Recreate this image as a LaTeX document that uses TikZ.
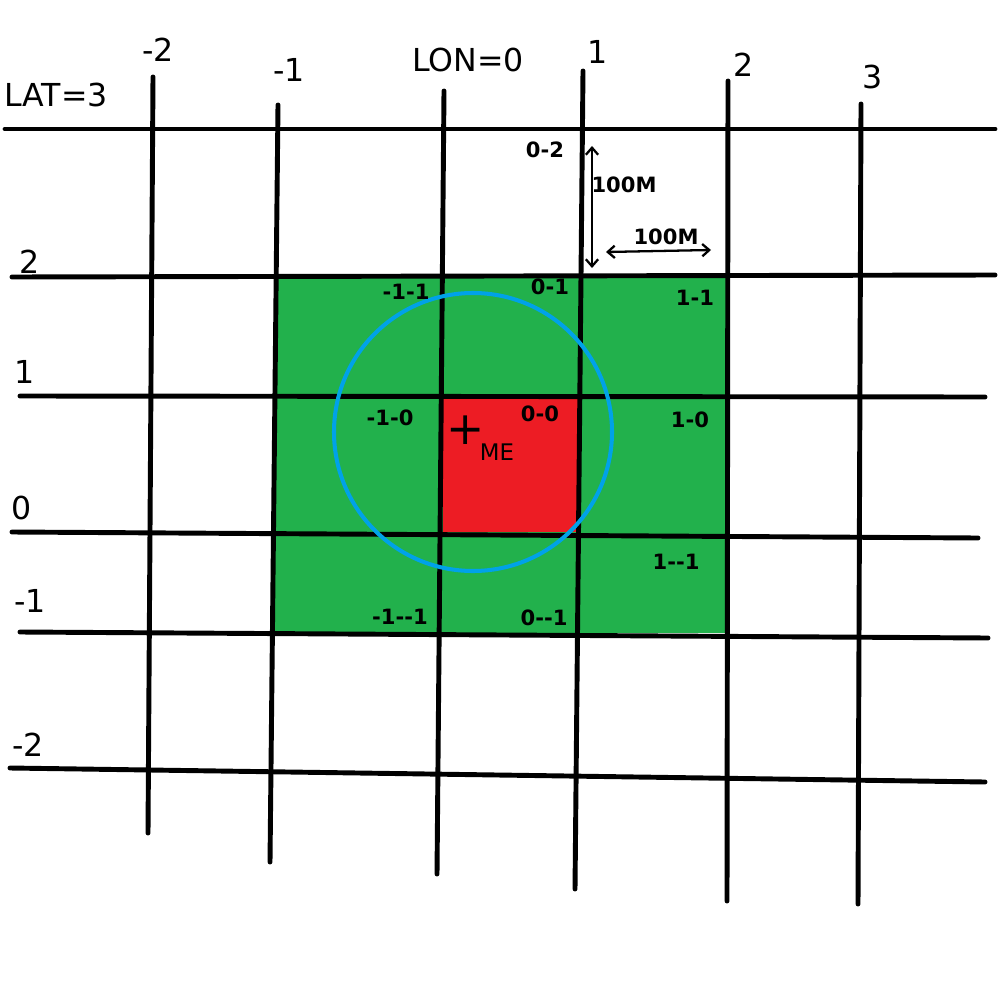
\documentclass[tikz,border=0pt]{standalone}
\usepackage{fontspec}
\setmainfont[Ligatures=NoCommon]{DejaVu Sans}
\usetikzlibrary{arrows.meta}
\definecolor{pgreen}{HTML}{22B14C}
\definecolor{pred}{HTML}{ED1C24}
\definecolor{pblue}{HTML}{00A2E8}
\begin{document}
\begin{tikzpicture}[x=0.02cm,y=-0.02cm,
  gridline/.style={line width=2.8pt,line cap=round,black},
  biglbl/.style={font=\fontsize{18}{20}\selectfont,inner sep=0pt},
  cell/.style={font=\fontsize{12}{13}\selectfont\bfseries,inner sep=0pt},
  dim/.style={line width=1.3pt,{Straight Barb[length=4pt,width=7pt]}-{Straight Barb[length=4pt,width=7pt]}}]
\useasboundingbox (0,0) rectangle (1000,1000);
\fill[white] (0,0) rectangle (1000,1000);
% fills
\fill[pgreen] (275,277) rectangle (727,633);
\fill[pred] (443,397) rectangle (580,532);
% horizontal lines
\draw[gridline] (5,129) -- (995,129);
\draw[gridline] (12,277) -- (995,275);
\draw[gridline] (20,396) -- (985,397);
\draw[gridline] (12,532) -- (978,538);
\draw[gridline] (20,632) -- (988,638);
\draw[gridline] (10,768) -- (985,782);
% vertical lines
\draw[gridline] (153,77) -- (148,833);
\draw[gridline] (278,105) -- (270,862);
\draw[gridline] (444,91) -- (437,874);
\draw[gridline] (583,71) -- (575,889);
\draw[gridline] (728,81) -- (727,901);
\draw[gridline] (861,104) -- (858,904);
% circle
\draw[pblue,line width=2.3pt] (473,432) circle (139);
% axis labels
\node[biglbl] (lat3) at (56,95) {LAT=3};
\node[biglbl] (lonm2) at (158,50) {-{}2};
\node[biglbl] (lonm1) at (289,70) {-{}1};
\node[biglbl] (lon0) at (468,60) {LON=0};
\node[biglbl] (lon1) at (598,52) {1};
\node[biglbl] (lon2) at (744,65) {2};
\node[biglbl] (lon3) at (873,77) {3};
\node[biglbl] (lat2) at (30,262) {2};
\node[biglbl] (lat1) at (25,372) {1};
\node[biglbl] (lat0) at (22,508) {0};
\node[biglbl] (latm1) at (30,601) {-{}1};
\node[biglbl] (latm2) at (28,745) {-{}2};
% cell labels
\node[cell] (c02) at (545,150) {0-{}2};
\node[cell] (cm11) at (406,292) {-{}1-{}1};
\node[cell] (c01) at (550,287) {0-{}1};
\node[cell] (c11) at (695,298) {1-{}1};
\node[cell] (cm10) at (390,418) {-{}1-{}0};
\node[cell] (c00) at (540,414) {0-{}0};
\node[cell] (c10) at (690,420) {1-{}0};
\node[cell] (c1m1) at (676,562) {1-{}-{}1};
\node[cell] (cm1m1) at (400,617) {-{}1-{}-{}1};
\node[cell] (c0m1) at (544,618) {0-{}-{}1};
% ME marker
\node[font=\fontsize{26}{26}\selectfont,inner sep=0pt] (plus) at (466,430) {+};
\node[cell,font=\fontsize{13}{14}\selectfont] (me) at (497,452) {ME};
% dimension arrows
\coordinate (vtop) at (592,146);
\coordinate (vbot) at (592,268);
\coordinate (hl) at (606,252);
\coordinate (hr) at (711,250);
\draw[dim] (vtop) -- (vbot);
\draw[dim] (hl) -- (hr);
\node[cell] (d1) at (624,185) {100M};
\node[cell] (d2) at (666,237) {100M};
\end{tikzpicture}
\end{document}
